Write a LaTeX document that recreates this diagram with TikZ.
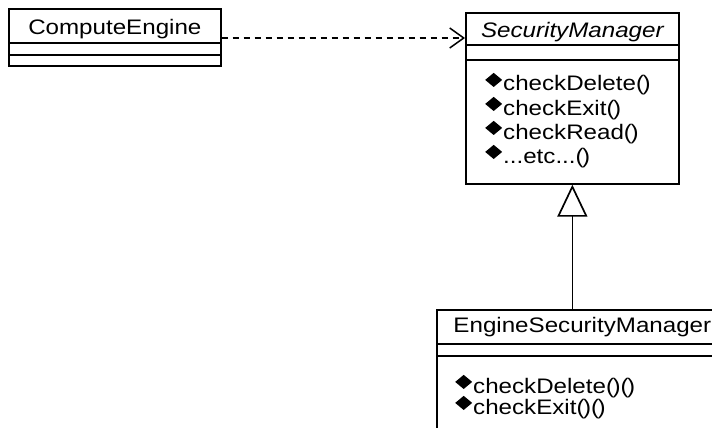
\documentclass[tikz,border=0pt]{standalone}
\usepackage{fontspec}
\usepackage{graphicx}
\setmainfont{Liberation Sans}[FakeStretch=1.15]
\usetikzlibrary{arrows.meta}
\tikzset{
  cls/.style={draw, line width=1.7pt, anchor=north west, inner sep=0pt},
  sepline/.style={line width=1.7pt},
  nm/.style={anchor=base, inner sep=0pt},
  op/.style={anchor=base west, inner sep=0pt},
  dep/.style={line width=1.5pt, dash pattern=on 6pt off 5pt, -{Straight Barb[length=14pt, width=20pt]}},
  gen/.style={line width=1.7pt, -{Triangle[open, length=32pt, width=30pt]}},
}
\newcommand\dm{\raisebox{4pt}{\scalebox{1.2}[1]{\rotatebox{45}{\rule{10pt}{10pt}}}}\kern1pt}
\newcommand\pp{(\kern-1.5pt)}
\begin{document}
\begin{tikzpicture}[x=1pt, y=-1pt, font=\fontsize{21}{25}\selectfont]
\useasboundingbox (0,0) rectangle (712,428);
\clip (0,0) rectangle (712,428);
% ComputeEngine
\node[cls, minimum width=212pt, minimum height=57pt] (ce) at (8,8) {};
\draw[sepline] (ce.west |- 0,43) -- (ce.east |- 0,43);
\draw[sepline] (ce.west |- 0,55) -- (ce.east |- 0,55);
\node[nm] (cen) at (ce.north |- 0,34.5) {ComputeEngine};
% SecurityManager
\node[cls, minimum width=213pt, minimum height=171pt] (sm) at (465,12) {};
\draw[sepline] (sm.west |- 0,45) -- (sm.east |- 0,45);
\draw[sepline] (sm.west |- 0,60) -- (sm.east |- 0,60);
\node[nm] (smn) at (sm.north |- 0,38) {\itshape SecurityManager};
\node[op] (sm1) at (485,91) {\dm checkDelete\pp};
\node[op] (sm2) at (485,115) {\dm checkExit\pp};
\node[op] (sm3) at (485,139) {\dm checkRead\pp};
\node[op] (sm4) at (485,163) {\dm ...etc...\pp};
% EngineSecurityManager
\node[cls, minimum width=291pt, minimum height=150pt] (esm) at (436,309) {};
\draw[sepline] (esm.west |- 0,344) -- (esm.east |- 0,344);
\draw[sepline] (esm.west |- 0,356) -- (esm.east |- 0,356);
\node[nm] (esmn) at (esm.north |- 0,332) {EngineSecurityManager};
\node[op] (esm1) at (455,393) {\dm checkDelete\pp\pp};
\node[op] (esm2) at (455,414) {\dm checkExit\pp\pp};
% connectors
\draw[dep] (ce.east |- 0,38) -- (sm.west |- 0,38);
\draw[gen] (sm.south |- esm.north) -- (sm.south);
\end{tikzpicture}
\end{document}
